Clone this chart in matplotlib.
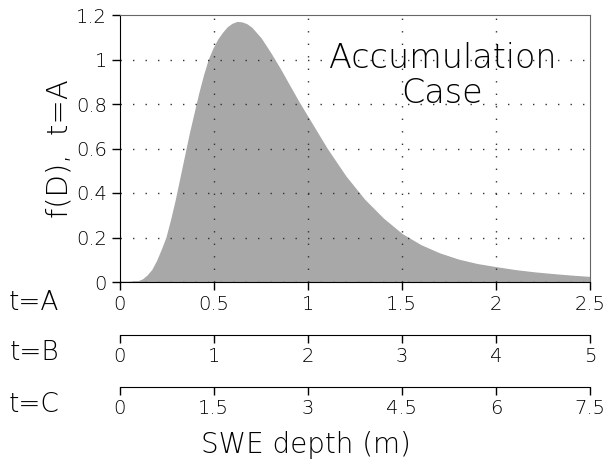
import matplotlib
matplotlib.use("Agg")
import matplotlib.pyplot as plt

# SWE depth (m) for t=A and the density
depth_a = [0.0, 0.05, 0.10, 0.125, 0.15, 0.175, 0.20, 0.225, 0.25, 0.275, 0.30,
           0.325, 0.35, 0.375, 0.40, 0.425, 0.45, 0.475, 0.50, 0.525, 0.55,
           0.575, 0.60, 0.625, 0.65, 0.675, 0.70, 0.75, 0.80, 0.85, 0.90, 0.95, 1.00,
           1.10, 1.20, 1.30, 1.40, 1.50, 1.60, 1.70, 1.80, 1.90, 2.00,
           2.10, 2.20, 2.30, 2.40, 2.50]
density = [0.0, 0.0, 0.003, 0.012, 0.03, 0.055, 0.095, 0.145, 0.20, 0.28, 0.37,
           0.47, 0.57, 0.67, 0.76, 0.85, 0.93, 1.00, 1.05, 1.09, 1.12,
           1.145, 1.16, 1.168, 1.166, 1.158, 1.143, 1.095, 1.03, 0.96, 0.885, 0.81, 0.74,
           0.60, 0.475, 0.37, 0.285, 0.215, 0.165, 0.128, 0.10, 0.08, 0.066,
           0.053, 0.043, 0.035, 0.028, 0.022]

ticks_a = [0, 0.5, 1, 1.5, 2, 2.5]
labels_a = ["0", "0.5", "1", "1.5", "2", "2.5"]
ticks_b = [0, 1, 2, 3, 4, 5]
labels_b = ["0", "1", "2", "3", "4", "5"]
ticks_c = [0, 1.5, 3, 4.5, 6, 7.5]
labels_c = ["0", "1.5", "3", "4.5", "6", "7.5"]
yticks = [0, 0.2, 0.4, 0.6, 0.8, 1, 1.2]
ylabels = ["0", "0.2", "0.4", "0.6", "0.8", "1", "1.2"]

plt.rcParams['font.family'] = ['DejaVu Sans']
plt.rcParams['font.weight'] = 'light'
plt.rcParams['axes.labelweight'] = 'light'

W, H = 606, 463
fig = plt.figure(figsize=(W / 100, H / 100), dpi=100)

left = 119.5 / W
width = (590 - 119.5) / W
ax = fig.add_axes([left, (H - 282) / H, width, (282 - 15) / H])

gray = "#a8a8a8"
ax.fill_between(depth_a, density, 0, color=gray, edgecolor=gray, lw=1, zorder=1)

ax.set_xlim(0, 2.5)
ax.set_ylim(0, 1.2)
ax.set_xticks(ticks_a)
ax.set_xticklabels(labels_a)
ax.set_yticks(yticks)
ax.set_yticklabels(ylabels)
ax.tick_params(axis='both', direction='out', length=6, width=1, labelsize=14, colors='black', pad=3)
ax.tick_params(axis='x', pad=3)

for v in ticks_a[1:-1]:
    ax.axvline(v, color='#333333', lw=1, ls=(0, (1, 8)), zorder=2)
for v in yticks[1:-1]:
    ax.axhline(v, color='#333333', lw=1, ls=(0, (1, 8)), zorder=2)
ax.axhline(0, color='#333333', lw=1, ls=(0, (1, 8)), zorder=2)

for s in ['top', 'right']:
    ax.spines[s].set_color('#666666')
for s in ['left', 'bottom']:
    ax.spines[s].set_color('black')

ax.text(1.715, 0.925, "Accumulation\nCase", ha='center', va='center', fontsize=24,
        linespacing=1.1, zorder=3)
ax.set_ylabel("f(D),  t=A", fontsize=21, labelpad=2)

fig.text(34 / W, 1 - 302 / H, "t=A", ha='center', va='center', fontsize=19)

# extra depth axes for t=B and t=C
for ypix, ticks, labels, name in [(335, ticks_b, labels_b, "t=B"),
                                  (387, ticks_c, labels_c, "t=C")]:
    a2 = fig.add_axes([left, (H - ypix) / H, width, 0.001])
    a2.set_xlim(ticks[0], ticks[-1])
    a2.set_xticks(ticks)
    a2.set_xticklabels(labels)
    a2.set_yticks([])
    a2.patch.set_visible(False)
    for s in ['top', 'left', 'right']:
        a2.spines[s].set_visible(False)
    a2.tick_params(axis='x', direction='out', length=6, width=1, labelsize=14, pad=3)
    fig.text(34 / W, 1 - (ypix + 18) / H, name, ha='center', va='center', fontsize=19)

fig.text(306 / W, 1 - 445 / H, "SWE depth (m)", ha='center', va='center', fontsize=20)

fig.savefig("out.png", dpi=100)
